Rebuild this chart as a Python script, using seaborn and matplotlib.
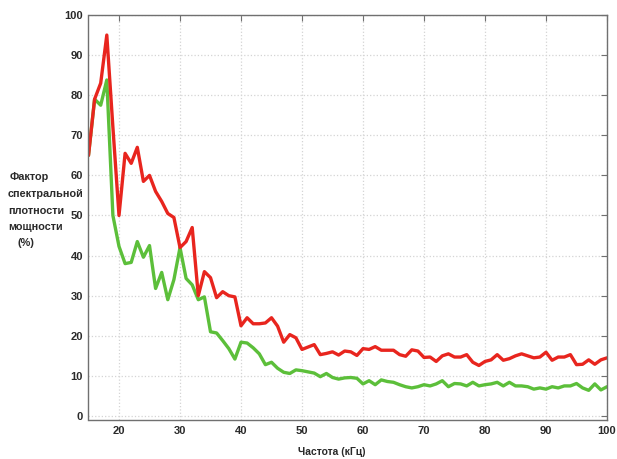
import matplotlib
matplotlib.use("Agg")
import matplotlib.pyplot as plt
import seaborn as sns
import pandas as pd
import numpy as np

freq_khz = list(range(15, 101))

red_psd = [65, 79, 83, 95, 72, 50, 65.5, 63, 67, 58.5,
           60, 56, 53.5, 50.5, 49.5, 42, 43.5, 47, 30, 36,
           34.5, 29.5, 31, 30, 29.7, 22.5, 24.5, 23, 23, 23.2,
           24.5, 22.4, 18.4, 20.3, 19.5, 16.6, 17.2, 17.8, 15.3, 15.6,
           16, 15.2, 16.2, 16, 15.1, 16.8, 16.6, 17.3, 16.4, 16.4,
           16.4, 15.3, 14.9, 16.5, 16.2, 14.6, 14.7, 13.6, 15, 15.5,
           14.7, 14.7, 15.3, 13.4, 12.6, 13.6, 14, 15.3, 13.9, 14.3,
           15, 15.5, 15, 14.5, 14.7, 15.9, 13.9, 14.7, 14.7, 15.3,
           12.8, 12.9, 14, 12.9, 14, 14.5]

green_psd = [65, 79, 77.5, 83.8, 50, 42.3, 38, 38.3, 43.5, 39.6,
             42.5, 31.8, 35.8, 29, 34, 42, 34.3, 32.7, 29, 29.7,
             21, 20.7, 18.8, 16.8, 14.2, 18.4, 18.2, 17, 15.5, 12.8,
             13.4, 11.9, 10.9, 10.6, 11.5, 11.3, 11, 10.7, 9.8, 10.6,
             9.6, 9.2, 9.5, 9.6, 9.4, 8, 8.8, 7.8, 9, 8.6,
             8.4, 7.8, 7.3, 7, 7.3, 7.8, 7.5, 8, 8.8, 7.3,
             8.1, 8, 7.5, 8.4, 7.5, 7.8, 8, 8.4, 7.5, 8.4,
             7.5, 7.5, 7.3, 6.7, 7, 6.7, 7.3, 7, 7.5, 7.5,
             8.1, 7, 6.4, 8, 6.5, 7.3]

x_ticks = [20, 30, 40, 50, 60, 70, 80, 90, 100]
y_ticks = [0, 10, 20, 30, 40, 50, 60, 70, 80, 90, 100]

df = pd.DataFrame({
    "freq": freq_khz * 2,
    "psd": red_psd + green_psd,
    "series": ["red"] * len(red_psd) + ["green"] * len(green_psd),
})

sns.set_theme(style="white")
plt.rcParams["font.family"] = ["Liberation Sans", "DejaVu Sans"]

fig = plt.figure(figsize=(6.17, 4.59), dpi=100)
ax = fig.add_axes([88.5 / 617, 1 - 420 / 459, (607 - 88.5) / 617, (420 - 15) / 459])

palette = {"green": "#5cbf3a", "red": "#e8251e"}
sns.lineplot(data=df, x="freq", y="psd", hue="series", hue_order=["green", "red"],
             palette=palette, linewidth=2.4, legend=False, ax=ax)

ax.set_xlim(15, 100)
ax.set_ylim(-1, 100)
ax.set_xticks(x_ticks)
ax.set_yticks(y_ticks)
ax.set_xlabel("")
ax.set_ylabel("")
ax.grid(True, color="#d4d4d4", linestyle=":", linewidth=0.9)
ax.set_axisbelow(True)
for s in ax.spines.values():
    s.set_color("#707070")
    s.set_linewidth(1.0)
ax.tick_params(direction="in", length=4, width=0.8, color="#707070",
               top=True, right=True, labelsize=8, labelcolor="#2a2a2a", pad=4)
for lab in ax.get_xticklabels() + ax.get_yticklabels():
    lab.set_fontweight("bold")

ylabel_lines = [("Фактор", 10, 177), ("спектральной", 8, 194),
                ("плотности", 8, 211), ("мощности", 8, 227), ("(%)", 18, 243)]
for text, px, py in ylabel_lines:
    fig.text(px / 617, 1 - py / 459, text, fontsize=7.8, fontweight="bold",
             color="#2a2a2a", ha="left", va="center")

fig.text(332 / 617, 1 - 452 / 459, "Частота (кГц)", fontsize=7.5, fontweight="bold",
         color="#2a2a2a", ha="center", va="center")

fig.savefig("out.png", dpi=100, facecolor="white")
